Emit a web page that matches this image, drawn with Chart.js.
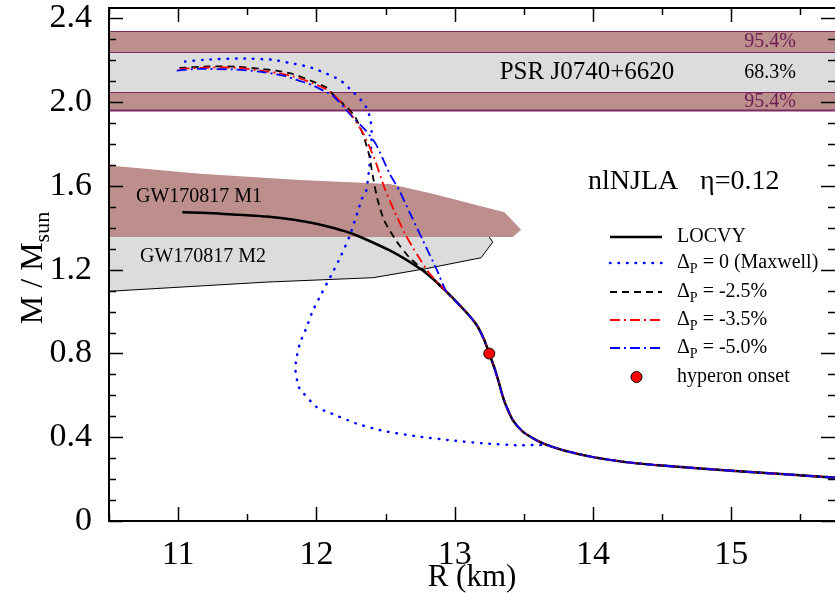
<!DOCTYPE html>
<html>
<head>
<meta charset="utf-8">
<script src="https://cdn.jsdelivr.net/npm/chart.js@4.4.0/dist/chart.umd.min.js"></script>
<style>
  html, body { margin: 0; padding: 0; background: #fff; }
</style>
</head>
<body>
<canvas id="mr_chart" width="835" height="593"></canvas>
<script>
// axis ticks
var xTicks = [11, 12, 13, 14, 15];
var yTicks = [0, 0.4, 0.8, 1.2, 1.6, 2, 2.4];

// LOCVY (hadronic, with hyperons)
var locvyR = [11.03, 11.30, 11.64, 12.00, 12.26, 12.53, 12.75, 12.85, 12.94, 13.03, 13.10, 13.16, 13.21, 13.25, 13.29, 13.32, 13.345, 13.37, 13.42, 13.49, 13.59, 13.67, 13.80, 14.00, 14.25, 14.50, 15.00, 15.50, 15.80];
var locvyM = [1.475, 1.468, 1.454, 1.420, 1.372, 1.292, 1.205, 1.152, 1.095, 1.035, 0.985, 0.935, 0.870, 0.800, 0.725, 0.660, 0.600, 0.553, 0.482, 0.428, 0.386, 0.362, 0.335, 0.305, 0.280, 0.265, 0.240, 0.218, 0.205];

// Delta_P = 0 (Maxwell)
var maxwellR = [11.05, 11.18, 11.43, 11.68, 11.81, 11.94, 12.05, 12.17, 12.26, 12.31, 12.36, 12.39, 12.40, 12.395, 12.38, 12.36, 12.33, 12.30, 12.24, 12.18, 12.12, 12.03, 11.97, 11.93, 11.88, 11.853, 11.848, 11.858, 11.872, 11.908, 12.00, 12.106, 12.287, 12.479, 12.721, 12.962, 13.202, 13.444, 13.673];
var maxwellM = [2.194, 2.202, 2.209, 2.203, 2.187, 2.170, 2.143, 2.106, 2.052, 2.020, 1.976, 1.920, 1.850, 1.785, 1.674, 1.578, 1.540, 1.480, 1.360, 1.270, 1.190, 1.078, 0.998, 0.927, 0.847, 0.768, 0.723, 0.680, 0.640, 0.609, 0.545, 0.514, 0.466, 0.431, 0.405, 0.386, 0.371, 0.362, 0.362];

// Delta_P = -2.5%
var dp25R = [11.01, 11.23, 11.42, 11.59, 11.71, 11.83, 11.97, 12.07, 12.14, 12.22, 12.28, 12.335, 12.38, 12.41, 12.44, 12.49, 12.58, 12.67, 12.79];
var dp25M = [2.164, 2.171, 2.170, 2.160, 2.151, 2.135, 2.100, 2.071, 2.023, 1.976, 1.930, 1.849, 1.750, 1.640, 1.540, 1.435, 1.335, 1.260, 1.190];

// Delta_P = -3.5%
var dp35R = [11.01, 11.23, 11.42, 11.59, 11.71, 11.83, 11.97, 12.07, 12.15, 12.24, 12.34, 12.42, 12.49, 12.56, 12.64, 12.73, 12.82];
var dp35M = [2.159, 2.166, 2.165, 2.152, 2.140, 2.124, 2.092, 2.062, 2.020, 1.952, 1.849, 1.730, 1.595, 1.485, 1.372, 1.270, 1.180];

// Delta_P = -5.0%
var dp50R = [10.99, 11.14, 11.42, 11.59, 11.76, 11.85, 11.97, 12.05, 12.12, 12.26, 12.35, 12.43, 12.53, 12.60, 12.69, 12.77, 12.87];
var dp50M = [2.151, 2.159, 2.156, 2.146, 2.127, 2.108, 2.082, 2.055, 2.031, 1.930, 1.870, 1.800, 1.658, 1.578, 1.451, 1.340, 1.200];

// hyperon onset
var onsetR = [13.25];
var onsetM = [0.80];

// PSR J0740+6620 bands
var psr68 = [2.05, 2.24];
var psr95 = [1.96, 2.34];

// GW170817 M1 region (closed outline)
var m1R = [10.50, 11.16, 11.88, 12.53, 12.84, 13.36, 13.48, 13.42, 10.50];
var m1M = [1.698, 1.658, 1.629, 1.610, 1.563, 1.475, 1.391, 1.356, 1.356];

// GW170817 M2 region (outlined edge)
var m2R = [13.25, 13.275, 13.19, 12.79, 12.41, 11.64, 10.50];
var m2M = [1.356, 1.332, 1.257, 1.205, 1.162, 1.141, 1.097];

var SERIF = '"Liberation Serif", "Times New Roman", serif';
var MAUVE = '#bc8e8c';
var GREY = '#dcdcdc';
var PURPLE = '#7a2a60';

function pts(rs, ms) {
  return rs.map(function(r, i){ return {x: r, y: ms[i]}; });
}
function withTail(rs, ms) {
  var last = rs[rs.length - 1];
  return pts(rs, ms).concat(pts(locvyR, locvyM).filter(function(p){ return p.x > last + 0.04; }));
}

var bandsPlugin = {
  id: 'bands',
  beforeDatasetsDraw: function(chart) {
    var ctx = chart.ctx, a = chart.chartArea, ys = chart.scales.y;
    ctx.save();
    ctx.fillStyle = MAUVE;
    ctx.fillRect(a.left, ys.getPixelForValue(psr95[1]), a.right - a.left, ys.getPixelForValue(psr68[1]) - ys.getPixelForValue(psr95[1]));
    ctx.fillRect(a.left, ys.getPixelForValue(psr68[0]), a.right - a.left, ys.getPixelForValue(psr95[0]) - ys.getPixelForValue(psr68[0]));
    ctx.fillStyle = GREY;
    ctx.fillRect(a.left, ys.getPixelForValue(psr68[1]), a.right - a.left, ys.getPixelForValue(psr68[0]) - ys.getPixelForValue(psr68[1]));
    ctx.strokeStyle = PURPLE;
    ctx.lineWidth = 1;
    [psr95[1], psr68[1], psr68[0]].forEach(function(v){
      var y = Math.round(ys.getPixelForValue(v)) + 0.5;
      ctx.beginPath(); ctx.moveTo(a.left, y); ctx.lineTo(a.right, y); ctx.stroke();
    });
    ctx.lineWidth = 2;
    var yb = ys.getPixelForValue(psr95[0]);
    ctx.beginPath(); ctx.moveTo(a.left, yb); ctx.lineTo(a.right, yb); ctx.stroke();
    ctx.restore();
  }
};

function subText(ctx, x, y, main, sub, rest, size) {
  ctx.font = size + 'px ' + SERIF;
  ctx.fillText(main, x, y);
  x += ctx.measureText(main).width;
  ctx.font = Math.round(size * 0.7) + 'px ' + SERIF;
  ctx.fillText(sub, x, y + size * 0.3);
  x += ctx.measureText(sub).width;
  ctx.font = size + 'px ' + SERIF;
  ctx.fillText(rest, x, y);
}

var framePlugin = {
  id: 'frame',
  afterDraw: function(chart) {
    var ctx = chart.ctx, a = chart.chartArea, xs = chart.scales.x, ys = chart.scales.y;
    ctx.save();
    // inward ticks on all four sides
    ctx.strokeStyle = '#000';
    ctx.lineWidth = 1.5;
    ctx.beginPath();
    for (var v = 10.5; v <= 15.75; v += 0.5) {
      var px = Math.round(xs.getPixelForValue(v)) + 0.5;
      var len = (v % 1 === 0) ? 14 : 7;
      ctx.moveTo(px, a.bottom); ctx.lineTo(px, a.bottom - len);
      ctx.moveTo(px, a.top); ctx.lineTo(px, a.top + len);
    }
    for (var k = 0; k <= 24; k++) {
      var py = Math.round(ys.getPixelForValue(k / 10)) + 0.5;
      var l2 = (k % 4 === 0) ? 14 : 7;
      ctx.moveTo(a.left, py); ctx.lineTo(a.left + l2, py);
      ctx.moveTo(a.right, py); ctx.lineTo(a.right - l2, py);
    }
    ctx.stroke();
    ctx.lineWidth = 2;
    ctx.strokeRect(a.left, a.top, a.right - a.left + 2, a.bottom - a.top);

    // axis titles
    ctx.fillStyle = '#000';
    ctx.textBaseline = 'middle';
    ctx.textAlign = 'center';
    ctx.font = '31px ' + SERIF;
    ctx.fillText('R (km)', 472, 578);
    ctx.save();
    ctx.translate(34, 268);
    ctx.rotate(-Math.PI / 2);
    ctx.font = '32px ' + SERIF;
    var w1 = ctx.measureText('M / M').width;
    ctx.font = '22px ' + SERIF;
    var w2 = ctx.measureText('sun').width;
    ctx.textAlign = 'left';
    subText(ctx, -(w1 + w2) / 2, 0, 'M / M', 'sun', '', 32);
    ctx.restore();

    // PSR labels
    ctx.textAlign = 'center';
    ctx.font = '25px ' + SERIF;
    ctx.fillText('PSR J0740+6620', 587, ys.getPixelForValue(2.14));
    ctx.font = '20px ' + SERIF;
    ctx.fillText('68.3%', 770, ys.getPixelForValue(2.14));
    ctx.fillStyle = '#6e1d52';
    ctx.fillText('95.4%', 770, ys.getPixelForValue(2.29));
    ctx.fillText('95.4%', 770, ys.getPixelForValue(2.0));

    // GW labels
    ctx.fillStyle = '#000';
    ctx.textAlign = 'left';
    ctx.font = '20px ' + SERIF;
    ctx.fillText('GW170817 M1', 136, 197);
    ctx.fillText('GW170817 M2', 140, 257);

    // model label
    ctx.font = '28px ' + SERIF;
    ctx.fillText('nlNJLA', 588, 182);
    ctx.fillText('\u03B7=0.12', 700, 182);

    // legend
    var lx0 = 610, lx1 = 662, tx = 677;
    var rows = [237, 263, 292, 320, 348, 377];
    var styles = [
      {c: '#000', d: [], w: 2.5},
      {c: '#0000ff', d: [0.5, 8], w: 2.5},
      {c: '#000', d: [7, 5], w: 1.8},
      {c: '#ff0000', d: [10, 4, 2, 4], w: 1.8},
      {c: '#0000ff', d: [10, 4, 2, 4], w: 1.8}
    ];
    styles.forEach(function(s, i){
      ctx.save();
      ctx.strokeStyle = s.c; ctx.lineWidth = s.w; ctx.setLineDash(s.d);
      ctx.lineCap = s.d.length && s.d[0] < 1 ? 'round' : 'butt';
      ctx.beginPath(); ctx.moveTo(lx0, rows[i]); ctx.lineTo(lx1, rows[i]); ctx.stroke();
      ctx.restore();
    });
    ctx.fillStyle = '#000';
    ctx.font = '20px ' + SERIF;
    ctx.fillText('LOCVY', tx, rows[0]);
    var dLabels = [' = 0 (Maxwell)', ' = -2.5%', ' = -3.5%', ' = -5.0%'];
    dLabels.forEach(function(t, i){
      subText(ctx, tx, rows[i + 1], '\u0394', 'P', t, 20);
    });
    ctx.font = '20px ' + SERIF;
    ctx.fillText('hyperon onset', tx, rows[5]);
    ctx.beginPath();
    ctx.arc(636.5, rows[5], 5.5, 0, Math.PI * 2);
    ctx.fillStyle = '#ff0000'; ctx.fill();
    ctx.lineWidth = 1; ctx.strokeStyle = '#000'; ctx.stroke();
    ctx.restore();
  }
};

var m2Poly = pts([10.50].concat(m2R), [1.356].concat(m2M));

var ctx = document.getElementById('mr_chart');
var chart = new Chart(ctx, {
  type: 'scatter',
  data: {
    datasets: [
      {
        label: 'hyperon onset',
        data: pts(onsetR, onsetM),
        pointRadius: 5.5,
        pointBackgroundColor: '#ff0000',
        pointBorderColor: '#000',
        pointBorderWidth: 1
      },
      {
        label: 'dP -5.0%',
        data: withTail(dp50R, dp50M),
        showLine: true, borderColor: '#0000ff', borderWidth: 1.8,
        borderDash: [10, 4, 2, 4], pointRadius: 0, tension: 0.2
      },
      {
        label: 'dP -3.5%',
        data: withTail(dp35R, dp35M),
        showLine: true, borderColor: '#ff0000', borderWidth: 1.8,
        borderDash: [10, 4, 2, 4], pointRadius: 0, tension: 0.2
      },
      {
        label: 'dP -2.5%',
        data: withTail(dp25R, dp25M),
        showLine: true, borderColor: '#000', borderWidth: 1.8,
        borderDash: [7, 5], pointRadius: 0, tension: 0.2
      },
      {
        label: 'Maxwell',
        data: withTail(maxwellR, maxwellM),
        showLine: true, borderColor: '#0000ff', borderWidth: 2.5,
        borderDash: [0.5, 8], borderCapStyle: 'round', pointRadius: 0, tension: 0.2
      },
      {
        label: 'LOCVY',
        data: pts(locvyR, locvyM),
        showLine: true, borderColor: '#000', borderWidth: 2.5,
        pointRadius: 0, tension: 0.2
      },
      {
        label: 'M2 edge',
        data: pts(m2R, m2M),
        showLine: true, borderColor: '#000', borderWidth: 1,
        pointRadius: 0, tension: 0
      },
      {
        label: 'M2',
        data: m2Poly,
        showLine: true, borderWidth: 0, borderColor: GREY,
        backgroundColor: GREY, fill: 'shape', pointRadius: 0, tension: 0
      },
      {
        label: 'M1',
        data: pts(m1R, m1M),
        showLine: true, borderWidth: 0, borderColor: MAUVE,
        backgroundColor: MAUVE, fill: 'shape', pointRadius: 0, tension: 0
      }
    ]
  },
  options: {
    responsive: false,
    animation: false,
    devicePixelRatio: 1,
    layout: { autoPadding: false, padding: { top: 8, right: 0, left: 0, bottom: 0 } },
    plugins: {
      legend: { display: false },
      tooltip: { enabled: false }
    },
    scales: {
      x: {
        type: 'linear',
        min: 10.5, max: 15.75,
        grid: { display: false },
        border: { display: false },
        afterBuildTicks: function(s){ s.ticks = xTicks.map(function(v){ return {value: v}; }); },
        afterFit: function(s){ s.height = 72; s.paddingLeft = 0; s.paddingRight = 0; },
        ticks: { color: '#000', font: { family: SERIF, size: 34 }, padding: 6, maxRotation: 0 }
      },
      y: {
        type: 'linear',
        min: 0, max: 2.45,
        grid: { display: false },
        border: { display: false },
        afterBuildTicks: function(s){ s.ticks = yTicks.map(function(v){ return {value: v}; }); },
        afterFit: function(s){ s.width = 109; s.paddingTop = 0; s.paddingBottom = 0; },
        ticks: { color: '#000', font: { family: SERIF, size: 34 }, padding: 9 }
      }
    }
  },
  plugins: [bandsPlugin, framePlugin]
});
</script>
</body>
</html>
